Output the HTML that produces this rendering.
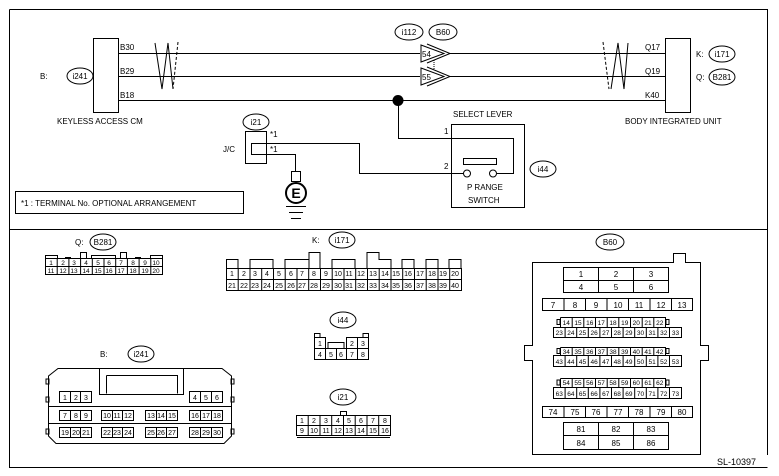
<!DOCTYPE html>
<html><head><meta charset="utf-8"><style>
html,body{margin:0;padding:0;background:#fff;}
svg{display:block;font-family:"Liberation Sans",Arial,sans-serif;}
text{fill:#000;}
.s{fill:none;stroke:#000;stroke-width:1;}
.t{font-size:8px;}
.n{font-size:7px;text-anchor:middle;}
.m{font-size:6.5px;text-anchor:middle;}
.c{text-anchor:middle;}
</style></head><body>
<svg width="779" height="476" viewBox="0 0 779 476" xmlns="http://www.w3.org/2000/svg">
<rect x="0" y="0" width="779" height="476" fill="#fff"/>
<path class="s" d="M9.5 9.5H767.5V455M9.5 9.5V467.5H767.5" />
<line class="s" x1="9" y1="229.5" x2="768" y2="229.5"/>
<text x="717" y="465" style="font-size:9px">SL-10397</text>

<rect class="s" x="93.5" y="38.5" width="25" height="74"/>
<text class="t" x="40" y="79">B:</text>
<ellipse class="s" cx="80" cy="76" rx="13" ry="8"/>
<text class="t c" x="80" y="79">i241</text>
<text class="t" x="57" y="124">KEYLESS ACCESS CM</text>
<text class="t" x="120" y="50">B30</text>
<text class="t" x="120" y="74">B29</text>
<text class="t" x="120" y="98">B18</text>
<path class="s" d="M119 53.5H420M119 76.5H420M119 100.5H665.5"/>
<path class="s" d="M450 53.5H665.5M450 76.5H665.5"/>
<path class="s" d="M155 43L162 89L168 43L173 89"/>
<path class="s" d="M178 42L173 89" stroke-dasharray="3,2"/>
<path class="s" d="M603 42L609 89" stroke-dasharray="3,2"/>
<path class="s" d="M611 89L618 43L624 89L628 43"/>

<ellipse class="s" cx="409" cy="32" rx="14" ry="8"/><text class="t c" x="409" y="35">i112</text>
<ellipse class="s" cx="443" cy="32" rx="14" ry="8"/><text class="t c" x="443" y="35">B60</text>
<path class="s" d="M421 45L444 53.5L421 62Z M427 44L450 53.5L427 63"/>
<text class="t" x="422" y="57">54</text>
<path class="s" d="M421 68L444 76.5L421 85Z M427 67L450 76.5L427 86"/>
<text class="t" x="422" y="80">55</text>
<line class="s" x1="434" y1="60" x2="434" y2="70" stroke-dasharray="1,1"/>

<rect class="s" x="665.5" y="38.5" width="25" height="74"/>
<text class="t" x="645" y="50">Q17</text>
<text class="t" x="645" y="74">Q19</text>
<text class="t" x="645" y="98">K40</text>
<text class="t" x="696" y="57">K:</text>
<ellipse class="s" cx="722" cy="54" rx="13" ry="8"/><text class="t c" x="722" y="57">i171</text>
<text class="t" x="696" y="80">Q:</text>
<ellipse class="s" cx="722" cy="77" rx="13" ry="8"/><text class="t c" x="722" y="80">B281</text>
<text class="t" x="625" y="124">BODY INTEGRATED UNIT</text>

<circle cx="398" cy="100.5" r="5.5" fill="#000"/>
<path class="s" d="M398.5 100V138.5H513.5V173.5H497"/>
<rect class="s" x="451.5" y="124.5" width="73" height="83"/>
<text class="t" x="453" y="117">SELECT LEVER</text>
<text class="t" x="444" y="134">1</text>
<text class="t" x="444" y="169">2</text>
<rect class="s" x="463.5" y="158.5" width="33" height="6"/>
<circle class="s" cx="467" cy="173.5" r="3.5"/>
<circle class="s" cx="493" cy="173.5" r="3.5"/>
<text class="t" x="467" y="190">P RANGE</text>
<text class="t" x="468" y="203">SWITCH</text>
<ellipse class="s" cx="543" cy="169" rx="13" ry="8"/><text class="t c" x="543" y="172">i44</text>

<ellipse class="s" cx="256" cy="122" rx="13" ry="8"/><text class="t c" x="256" y="125">i21</text>
<text class="t" x="223" y="152">J/C</text>
<rect class="s" x="245.5" y="131.5" width="21" height="32"/>
<text class="t" x="270" y="137">*1</text>
<text class="t" x="270" y="152">*1</text>
<path class="s" d="M463.5 173.5H359.5V143.5H251.5V154.5H295.5V171.5"/>
<rect class="s" x="291.5" y="171.5" width="9" height="10"/>
<circle cx="296" cy="193" r="10" fill="#fff" stroke="#000" stroke-width="2"/>
<text x="296" y="198" class="c" style="font-size:14px;font-weight:bold">E</text>
<path class="s" d="M286 206.5H306M289 212.5H303M291 218.5H301"/>

<rect class="s" x="15.5" y="191.5" width="228" height="22"/>
<text class="t" x="21" y="206">*1 : TERMINAL No. OPTIONAL ARRANGEMENT</text>

<!-- B281 -->
<text class="t" x="75" y="245">Q:</text>
<ellipse class="s" cx="103" cy="242" rx="13" ry="8"/><text class="t c" x="103" y="245">B281</text>
<path class="s" d="M45.5 258.5V255.5H57.5V258.5M65.5 258.5V257.5H70.5V258.5M80.5 258.5V252.5H86.5V258.5M91.5 258.5V255.5H115.5V258.5M120.5 258.5V252.5H126.5V258.5M135.5 258.5V257.5H140.5V258.5M150.5 258.5V255.5H162.5V258.5"/>
<rect class="s" x="45.5" y="258.5" width="117" height="16"/>
<path class="s" d="M45 266.5H163M57.2 258V275M68.9 258V275M80.6 258V275M92.3 258V275M104 258V275M115.7 258V275M127.4 258V275M139.1 258V275M150.8 258V275"/>
<g class="m">
<text x="51" y="265">1</text><text x="63" y="265">2</text><text x="74" y="265">3</text><text x="86" y="265">4</text><text x="98" y="265">5</text><text x="109" y="265">6</text><text x="121" y="265">7</text><text x="133" y="265">8</text><text x="145" y="265">9</text><text x="156" y="265">10</text>
<text x="51" y="273">11</text><text x="63" y="273">12</text><text x="74" y="273">13</text><text x="86" y="273">14</text><text x="98" y="273">15</text><text x="109" y="273">16</text><text x="121" y="273">17</text><text x="133" y="273">18</text><text x="145" y="273">19</text><text x="156" y="273">20</text>
</g>

<!-- i171 -->
<text class="t" x="312" y="243">K:</text>
<ellipse class="s" cx="342" cy="240" rx="13" ry="8"/><text class="t c" x="342" y="243">i171</text>
<path class="s" d="M226.5 268V259.5H238V268M250 268V259.5H273V268M285 268V259.5H309V268M309 268V252.5H320V268M332 268V259.5H355V268M367 268V252.5H379V259.5H391V268M402 268V259.5H414V268M426 268V259.5H438V268M449 268V259.5H461V268"/>
<rect class="s" x="226.5" y="268.5" width="235" height="22"/>
<path class="s" d="M226 279.5H462M238.2 268V291M250 268V291M261.7 268V291M273.5 268V291M285.2 268V291M297 268V291M308.7 268V291M320.5 268V291M332.2 268V291M344 268V291M355.7 268V291M367.5 268V291M379.2 268V291M391 268V291M402.7 268V291M414.5 268V291M426.2 268V291M438 268V291M449.7 268V291"/>
<g class="n">
<text x="232" y="276">1</text><text x="244" y="276">2</text><text x="255" y="276">3</text><text x="267" y="276">4</text><text x="279" y="276">5</text><text x="291" y="276">6</text><text x="302" y="276">7</text><text x="314" y="276">8</text><text x="326" y="276">9</text><text x="338" y="276">10</text><text x="349" y="276">11</text><text x="361" y="276">12</text><text x="373" y="276">13</text><text x="385" y="276">14</text><text x="396" y="276">15</text><text x="408" y="276">16</text><text x="420" y="276">17</text><text x="432" y="276">18</text><text x="443" y="276">19</text><text x="455" y="276">20</text>
<text x="232" y="288">21</text><text x="244" y="288">22</text><text x="255" y="288">23</text><text x="267" y="288">24</text><text x="279" y="288">25</text><text x="291" y="288">26</text><text x="302" y="288">27</text><text x="314" y="288">28</text><text x="326" y="288">29</text><text x="338" y="288">30</text><text x="349" y="288">31</text><text x="361" y="288">32</text><text x="373" y="288">33</text><text x="385" y="288">34</text><text x="396" y="288">35</text><text x="408" y="288">36</text><text x="420" y="288">37</text><text x="432" y="288">38</text><text x="443" y="288">39</text><text x="455" y="288">40</text>
</g>

<!-- i44 -->
<ellipse class="s" cx="343" cy="320" rx="13" ry="8"/><text class="t c" x="343" y="323">i44</text>
<path class="s" d="M314.5 337V333.5H320V337M363 337V333.5H368.5V337M314.5 337.5H325.5V348.5M346.5 348.5V337.5H368.5V359.5H314.5V337M357.5 337.5V359.5M325.5 348.5V359.5M336.5 348.5V359.5M346.5 348.5V359.5M314.5 348.5H368.5M328 348.5V342.5H344V348.5"/>
<g class="n"><text x="320" y="346">1</text><text x="352" y="346">2</text><text x="363" y="346">3</text><text x="320" y="357">4</text><text x="331" y="357">5</text><text x="341" y="357">6</text><text x="352" y="357">7</text><text x="363" y="357">8</text></g>

<!-- i21 -->
<ellipse class="s" cx="343" cy="397" rx="13" ry="8"/><text class="t c" x="343" y="400">i21</text>
<rect class="s" x="340.5" y="411.5" width="6" height="4"/>
<rect class="s" x="296.5" y="415.5" width="94" height="20"/>
<path class="s" d="M296 425.5H391M308.2 415V436M320 415V436M331.7 415V436M343.5 415V436M355.2 415V436M367 415V436M378.7 415V436M297 437.5H390"/>
<g class="n"><text x="302" y="423">1</text><text x="314" y="423">2</text><text x="326" y="423">3</text><text x="338" y="423">4</text><text x="349" y="423">5</text><text x="361" y="423">6</text><text x="373" y="423">7</text><text x="385" y="423">8</text>
<text x="302" y="433">9</text><text x="314" y="433">10</text><text x="326" y="433">11</text><text x="338" y="433">12</text><text x="349" y="433">13</text><text x="361" y="433">14</text><text x="373" y="433">15</text><text x="385" y="433">16</text></g>

<!-- i241 -->
<text class="t" x="100" y="357">B:</text>
<ellipse class="s" cx="141" cy="354" rx="13" ry="8"/><text class="t c" x="141" y="357">i241</text>
<path class="s" d="M58 368.5H222L231.5 376V436L224 443.5H56L48.5 436V376Z"/>
<path class="s" d="M99.5 368.5V394.5H183.5V368.5M106.5 375.5H177.5V393.5M106.5 375.5V393.5"/>
<path class="s" d="M49 406.5H231M49 423.5H231"/>
<path class="s" d="M46 379h3v5h-3zM46 397h3v5h-3zM46 429h3v5h-3zM231 379h3v5h-3zM231 397h3v5h-3zM231 429h3v5h-3z"/>
<path class="s" d="M59.5 391.5H91.5V402.5H59.5ZM70.5 391.5V402.5M80.5 391.5V402.5M189.5 391.5H222.5V402.5H189.5ZM200.5 391.5V402.5M211.5 391.5V402.5"/>
<path class="s" d="M59.5 410.5H91.5V420.5H59.5ZM70.5 410.5V420.5M80.5 410.5V420.5M101.5 410.5H133.5V420.5H101.5ZM112.5 410.5V420.5M122.5 410.5V420.5M145.5 410.5H177.5V420.5H145.5ZM156.5 410.5V420.5M166.5 410.5V420.5M189.5 410.5H222.5V420.5H189.5ZM200.5 410.5V420.5M211.5 410.5V420.5"/>
<path class="s" d="M59.5 427.5H91.5V437.5H59.5ZM70.5 427.5V437.5M80.5 427.5V437.5M101.5 427.5H133.5V437.5H101.5ZM112.5 427.5V437.5M122.5 427.5V437.5M145.5 427.5H177.5V437.5H145.5ZM156.5 427.5V437.5M166.5 427.5V437.5M189.5 427.5H222.5V437.5H189.5ZM200.5 427.5V437.5M211.5 427.5V437.5"/>
<g class="n">
<text x="65" y="400">1</text><text x="76" y="400">2</text><text x="86" y="400">3</text><text x="195" y="400">4</text><text x="206" y="400">5</text><text x="217" y="400">6</text>
<text x="65" y="418">7</text><text x="76" y="418">8</text><text x="86" y="418">9</text><text x="107" y="418">10</text><text x="117" y="418">11</text><text x="128" y="418">12</text><text x="151" y="418">13</text><text x="161" y="418">14</text><text x="172" y="418">15</text><text x="195" y="418">16</text><text x="206" y="418">17</text><text x="217" y="418">18</text>
<text x="65" y="435">19</text><text x="76" y="435">20</text><text x="86" y="435">21</text><text x="107" y="435">22</text><text x="117" y="435">23</text><text x="128" y="435">24</text><text x="151" y="435">25</text><text x="161" y="435">26</text><text x="172" y="435">27</text><text x="195" y="435">28</text><text x="206" y="435">29</text><text x="217" y="435">30</text>
</g>

<!-- B60 -->
<ellipse class="s" cx="610" cy="242" rx="14" ry="8"/><text class="t c" x="610" y="245">B60</text>
<path class="s" d="M532.5 262.5H673.5V253.5H685.5V262.5H700.5V345.5H708.5V360.5H700.5V454.5H532.5V360.5H524.5V345.5H532.5Z"/>
<path class="s" d="M563.5 267.5H668.5V292.5H563.5ZM563.5 280.5H668.5M598.5 267.5V292.5M633.5 267.5V292.5"/>
<path class="s" d="M563.5 422.5H668.5V449.5H563.5ZM563.5 435.5H668.5M598.5 422.5V449.5M633.5 422.5V449.5"/>
<path class="s" d="M542.5 298.5H692.5V310.5H542.5ZM564 298V311M585.5 298V311M607 298V311M628.5 298V311M650 298V311M671.5 298V311"/>
<path class="s" d="M542.5 406.5H692.5V417.5H542.5ZM564 406V418M585.5 406V418M607 406V418M628.5 406V418M650 406V418M671.5 406V418"/>
<g class="n" style="font-size:8px">
<text x="581" y="277">1</text><text x="616" y="277">2</text><text x="651" y="277">3</text>
<text x="581" y="290">4</text><text x="616" y="290">5</text><text x="651" y="290">6</text>
<text x="553" y="308">7</text><text x="575" y="308">8</text><text x="596" y="308">9</text><text x="618" y="308">10</text><text x="639" y="308">11</text><text x="661" y="308">12</text><text x="682" y="308">13</text>
<text x="553" y="415">74</text><text x="575" y="415">75</text><text x="596" y="415">76</text><text x="618" y="415">77</text><text x="639" y="415">78</text><text x="661" y="415">79</text><text x="682" y="415">80</text>
<text x="581" y="432">81</text><text x="616" y="432">82</text><text x="651" y="432">83</text>
<text x="581" y="446">84</text><text x="616" y="446">85</text><text x="651" y="446">86</text>
</g>
<!-- mini grids: upper row 9 cells from 560.5 w11.67, lower 11 cells from 553.5 w11.6 -->
<path class="s" d="M560.5 317.5H665.5V327.5M560.5 317.5V327.5M553.5 327.5H681.5V337.5H553.5ZM557 319.5h3v5h-3zM666 319.5h3v5h-3zM572.2 317V327M583.8 317V327M595.5 317V327M607.2 317V327M618.8 317V327M630.5 317V327M642.2 317V327M653.8 317V327M565.1 327V338M576.7 327V338M588.3 327V338M599.9 327V338M611.5 327V338M623.1 327V338M634.7 327V338M646.3 327V338M657.9 327V338M669.5 327V338"/>
<path class="s" d="M560.5 347.5H665.5V355.5M560.5 347.5V355.5M553.5 355.5H681.5V366.5H553.5ZM557 348.5h3v5h-3zM666 348.5h3v5h-3zM572.2 347V355M583.8 347V355M595.5 347V355M607.2 347V355M618.8 347V355M630.5 347V355M642.2 347V355M653.8 347V355M565.1 355V366M576.7 355V366M588.3 355V366M599.9 355V366M611.5 355V366M623.1 355V366M634.7 355V366M646.3 355V366M657.9 355V366M669.5 355V366"/>
<path class="s" d="M560.5 378.5H665.5V387.5M560.5 378.5V387.5M553.5 387.5H681.5V398.5H553.5ZM557 380h3v5h-3zM666 380h3v5h-3zM572.2 378V387M583.8 378V387M595.5 378V387M607.2 378V387M618.8 378V387M630.5 378V387M642.2 378V387M653.8 378V387M565.1 387V398M576.7 387V398M588.3 387V398M599.9 387V398M611.5 387V398M623.1 387V398M634.7 387V398M646.3 387V398M657.9 387V398M669.5 387V398"/>
<g class="m">
<text x="566.3" y="325">14</text><text x="578" y="325">15</text><text x="589.7" y="325">16</text><text x="601.3" y="325">17</text><text x="613" y="325">18</text><text x="624.7" y="325">19</text><text x="636.3" y="325">20</text><text x="648" y="325">21</text><text x="659.7" y="325">22</text>
<text x="559.3" y="335">23</text><text x="570.9" y="335">24</text><text x="582.5" y="335">25</text><text x="594.1" y="335">26</text><text x="605.7" y="335">27</text><text x="617.3" y="335">28</text><text x="628.9" y="335">29</text><text x="640.5" y="335">30</text><text x="652.1" y="335">31</text><text x="663.7" y="335">32</text><text x="675.5" y="335">33</text>
<text x="566.3" y="354">34</text><text x="578" y="354">35</text><text x="589.7" y="354">36</text><text x="601.3" y="354">37</text><text x="613" y="354">38</text><text x="624.7" y="354">39</text><text x="636.3" y="354">40</text><text x="648" y="354">41</text><text x="659.7" y="354">42</text>
<text x="559.3" y="364">43</text><text x="570.9" y="364">44</text><text x="582.5" y="364">45</text><text x="594.1" y="364">46</text><text x="605.7" y="364">47</text><text x="617.3" y="364">48</text><text x="628.9" y="364">49</text><text x="640.5" y="364">50</text><text x="652.1" y="364">51</text><text x="663.7" y="364">52</text><text x="675.5" y="364">53</text>
<text x="566.3" y="385">54</text><text x="578" y="385">55</text><text x="589.7" y="385">56</text><text x="601.3" y="385">57</text><text x="613" y="385">58</text><text x="624.7" y="385">59</text><text x="636.3" y="385">60</text><text x="648" y="385">61</text><text x="659.7" y="385">62</text>
<text x="559.3" y="396">63</text><text x="570.9" y="396">64</text><text x="582.5" y="396">65</text><text x="594.1" y="396">66</text><text x="605.7" y="396">67</text><text x="617.3" y="396">68</text><text x="628.9" y="396">69</text><text x="640.5" y="396">70</text><text x="652.1" y="396">71</text><text x="663.7" y="396">72</text><text x="675.5" y="396">73</text>
</g>
</svg>
</body></html>
